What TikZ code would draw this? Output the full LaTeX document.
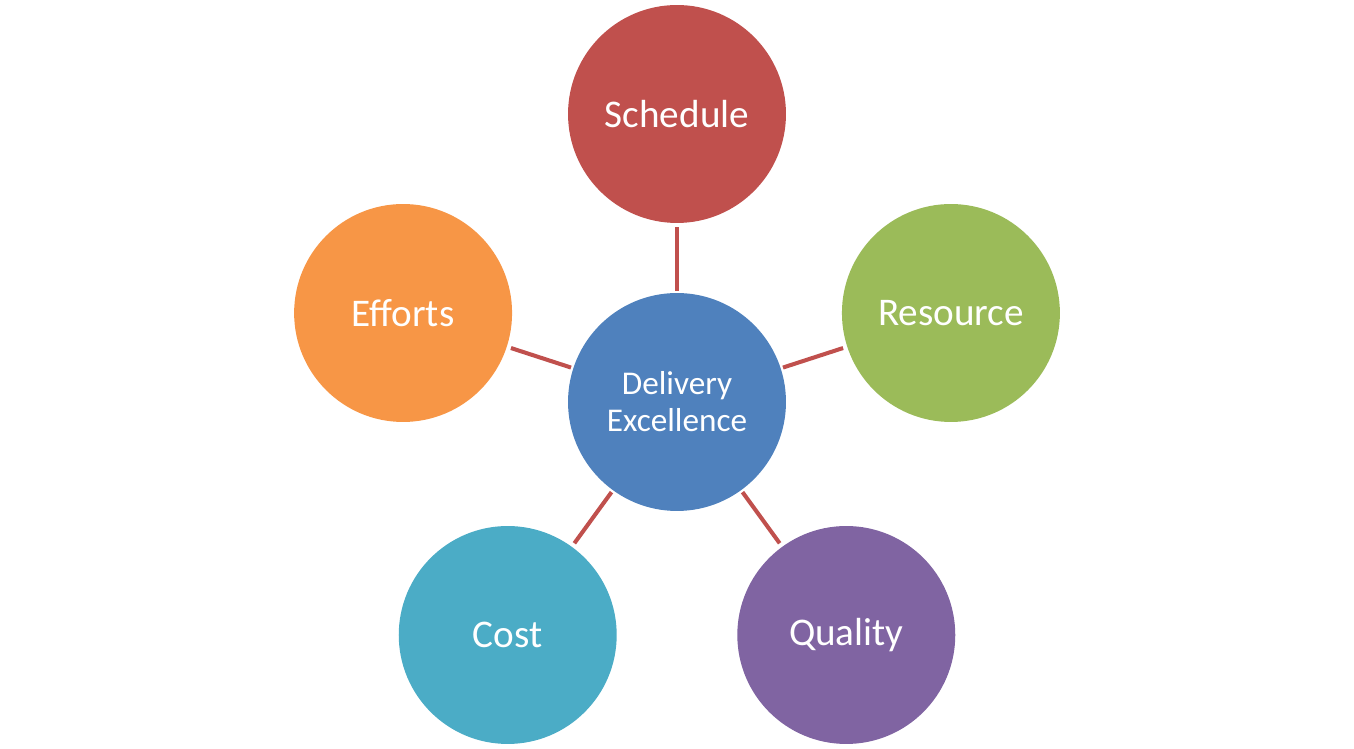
\documentclass[tikz,border=0pt]{standalone}
\usepackage{fontspec}
\setmainfont{Carlito}
\definecolor{hubblue}{HTML}{4F81BD}
\definecolor{schedred}{HTML}{C0504D}
\definecolor{resgreen}{HTML}{9BBB59}
\definecolor{qualpurple}{HTML}{8064A2}
\definecolor{costcyan}{HTML}{4BACC6}
\definecolor{effortorange}{HTML}{F79646}
\begin{document}
\begin{tikzpicture}[x=0.02cm, y=0.02cm,
  bubble/.style={circle, inner sep=0pt, minimum size=4.36cm, text=white,
    align=center, font=\fontsize{22.3}{27}\selectfont},
  link/.style={draw=schedred, line width=2.3pt, shorten <=1.2pt, shorten >=2.3pt}]
  \useasboundingbox (0,0) rectangle (1354,749);

  % Hub
  \node[bubble, fill=hubblue, font=\fontsize{18.9}{21}\selectfont]
    (hub) at (677,347) {Delivery\\Excellence};

  % Outer bubbles and links
  \foreach \ang/\name/\col/\txt in {90/sched/schedred/Schedule,
      18/res/resgreen/Resource, -54/qual/qualpurple/Quality,
      -126/cost/costcyan/Cost, 162/eff/effortorange/Efforts} {
    \node[bubble, fill=\col] (\name) at ([shift={(\ang:288)}]hub.center) {\txt};
    \draw[link] (hub) -- (\name);
  }

\end{tikzpicture}
\end{document}
